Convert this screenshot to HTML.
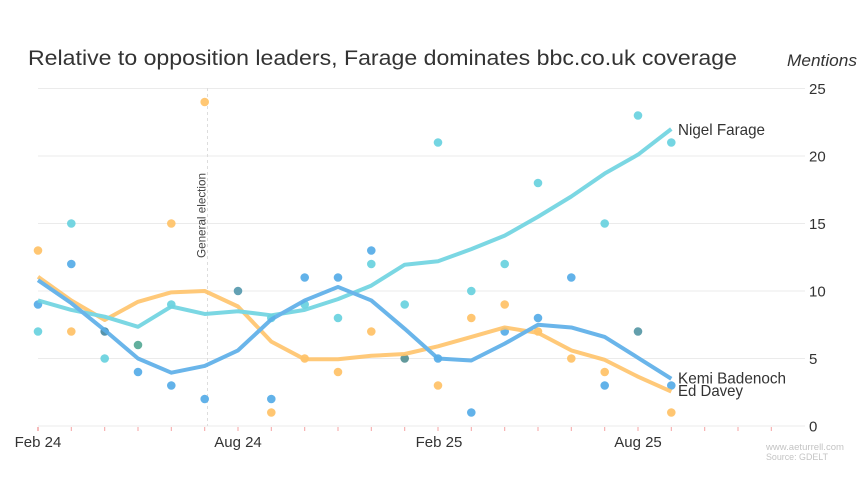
<!DOCTYPE html>
<html><head><meta charset="utf-8"><style>
html,body{margin:0;padding:0;background:#fff;}
svg{display:block;font-family:"Liberation Sans",sans-serif;}
</style></head><body>
<svg width="864" height="480" viewBox="0 0 864 480" xmlns="http://www.w3.org/2000/svg">
<rect width="864" height="480" fill="#fff"/>
<text x="28" y="65" font-size="21" fill="#333" textLength="709" lengthAdjust="spacingAndGlyphs">Relative to opposition leaders, Farage dominates bbc.co.uk coverage</text>
<text x="787" y="66" font-size="17" font-style="italic" fill="#333" textLength="70" lengthAdjust="spacingAndGlyphs">Mentions</text>
<g stroke="#ebebeb" stroke-width="1">
<line x1="38" x2="805" y1="88.5" y2="88.5"/>
<line x1="38" x2="805" y1="156" y2="156"/>
<line x1="38" x2="805" y1="223.5" y2="223.5"/>
<line x1="38" x2="805" y1="291" y2="291"/>
<line x1="38" x2="805" y1="358.5" y2="358.5"/>
<line x1="38" x2="805" y1="426" y2="426"/>
</g>
<g font-size="15" fill="#333">
<text x="809" y="94">25</text>
<text x="809" y="161.5">20</text>
<text x="809" y="229">15</text>
<text x="809" y="296.5">10</text>
<text x="809" y="364">5</text>
<text x="809" y="431.5">0</text>
</g>
<g stroke="#f4a3a3" stroke-width="1">
<line x1="38" x2="38" y1="427" y2="431" stroke="#ee7777"/><line x1="71.3" x2="71.3" y1="427" y2="431"/><line x1="104.7" x2="104.7" y1="427" y2="431"/><line x1="138" x2="138" y1="427" y2="431"/><line x1="171.3" x2="171.3" y1="427" y2="431"/><line x1="204.7" x2="204.7" y1="427" y2="431"/><line x1="238" x2="238" y1="427" y2="431"/><line x1="271.3" x2="271.3" y1="427" y2="431"/><line x1="304.7" x2="304.7" y1="427" y2="431"/><line x1="338" x2="338" y1="427" y2="431"/><line x1="371.3" x2="371.3" y1="427" y2="431"/><line x1="404.7" x2="404.7" y1="427" y2="431"/><line x1="438" x2="438" y1="427" y2="431"/><line x1="471.3" x2="471.3" y1="427" y2="431"/><line x1="504.7" x2="504.7" y1="427" y2="431"/><line x1="538" x2="538" y1="427" y2="431"/><line x1="571.3" x2="571.3" y1="427" y2="431"/><line x1="604.7" x2="604.7" y1="427" y2="431"/><line x1="638" x2="638" y1="427" y2="431"/><line x1="671.3" x2="671.3" y1="427" y2="431"/><line x1="704.7" x2="704.7" y1="427" y2="431"/><line x1="738" x2="738" y1="427" y2="431"/><line x1="771.3" x2="771.3" y1="427" y2="431"/>
</g>
<g font-size="15" fill="#333" text-anchor="middle">
<text x="38" y="447">Feb 24</text>
<text x="238" y="447">Aug 24</text>
<text x="439" y="447">Feb 25</text>
<text x="638" y="447">Aug 25</text>
</g>
<line x1="207.5" x2="207.5" y1="88" y2="426" stroke="#dddddd" stroke-width="1" stroke-dasharray="3,3"/>
<text transform="translate(205.5,258) rotate(-90)" font-size="12" fill="#444" textLength="85" lengthAdjust="spacingAndGlyphs">General election</text>
<g opacity="0.95">
<g fill="#ffc46b">
<circle cx="38" cy="250.5" r="4.3"/><circle cx="71.3" cy="331.5" r="4.3"/><circle cx="171.3" cy="223.5" r="4.3"/><circle cx="204.7" cy="102" r="4.3"/><circle cx="271.3" cy="412.5" r="4.3"/><circle cx="304.7" cy="358.5" r="4.3"/><circle cx="338" cy="372" r="4.3"/><circle cx="371.3" cy="331.5" r="4.3"/><circle cx="438" cy="385.5" r="4.3"/><circle cx="471.3" cy="318" r="4.3"/><circle cx="504.7" cy="304.5" r="4.3"/><circle cx="538" cy="331.5" r="4.3"/><circle cx="571.3" cy="358.5" r="4.3"/><circle cx="604.7" cy="372" r="4.3"/><circle cx="671.3" cy="412.5" r="4.3"/>
</g>
<g fill="#6dd3e0">
<circle cx="38" cy="331.5" r="4.3"/><circle cx="71.3" cy="223.5" r="4.3"/><circle cx="104.7" cy="358.5" r="4.3"/><circle cx="171.3" cy="304.5" r="4.3"/><circle cx="271.3" cy="318" r="4.3"/><circle cx="304.7" cy="304.5" r="4.3"/><circle cx="338" cy="318" r="4.3"/><circle cx="371.3" cy="264" r="4.3"/><circle cx="404.7" cy="304.5" r="4.3"/><circle cx="438" cy="142.5" r="4.3"/><circle cx="471.3" cy="291" r="4.3"/><circle cx="504.7" cy="264" r="4.3"/><circle cx="538" cy="183" r="4.3"/><circle cx="604.7" cy="223.5" r="4.3"/><circle cx="638" cy="115.5" r="4.3"/><circle cx="671.3" cy="142.5" r="4.3"/>
</g>
<g fill="#5aaee8">
<circle cx="38" cy="304.5" r="4.3"/><circle cx="71.3" cy="264" r="4.3"/><circle cx="138" cy="372" r="4.3"/><circle cx="171.3" cy="385.5" r="4.3"/><circle cx="204.7" cy="399" r="4.3"/><circle cx="271.3" cy="399" r="4.3"/><circle cx="304.7" cy="277.5" r="4.3"/><circle cx="338" cy="277.5" r="4.3"/><circle cx="371.3" cy="250.5" r="4.3"/><circle cx="438" cy="358.5" r="4.3"/><circle cx="471.3" cy="412.5" r="4.3"/><circle cx="504.7" cy="331.5" r="4.3"/><circle cx="538" cy="318" r="4.3"/><circle cx="571.3" cy="277.5" r="4.3"/><circle cx="604.7" cy="385.5" r="4.3"/><circle cx="671.3" cy="385.5" r="4.3"/>
</g>
<circle cx="104.7" cy="331.5" r="4.3" fill="#4d8ea6"/>
<circle cx="138" cy="345" r="4.3" fill="#5aab98"/>
<circle cx="238" cy="291" r="4.3" fill="#5b9db0"/>
<circle cx="404.7" cy="358.5" r="4.3" fill="#5a9496"/>
<circle cx="638" cy="331.5" r="4.3" fill="#5b9aa8"/>
</g>
<g fill="none" stroke-width="4" stroke-linejoin="round" stroke-linecap="butt" opacity="0.9">
<polyline stroke="#ffc46b" points="38,276.8 71.3,300.45 104.7,320 138,301.8 171.3,292.35 204.7,291 238,306.5 271.3,341.6 304.7,359.3 338,359.3 371.3,355.8 404.7,354 438,346.35 471.3,336.9 504.7,327.45 538,332.85 571.3,350.4 604.7,359.85 638,376.7 671.3,391.6"/>
<polyline stroke="#6dd3e0" points="38,300.45 71.3,309.9 104.7,316.65 138,326.8 171.3,306.5 204.7,313.95 238,311.25 271.3,315.3 304.7,309.9 338,299.1 371.3,285.6 404.7,264.7 438,261.3 471.3,249.15 504.7,235.65 538,216.75 571.3,196.5 604.7,173.55 638,154.65 671.3,129"/>
<polyline stroke="#5aaee8" points="38,280.2 71.3,303.15 104.7,330.15 138,358.5 171.3,372.7 204.7,365.9 238,350.4 271.3,319.35 304.7,300.45 338,286.95 371.3,300.45 404.7,328.8 438,358.5 471.3,360.5 504.7,343.65 538,324.75 571.3,327.45 604.7,336.9 638,357.8 671.3,378.75"/>
</g>
<g font-size="16" fill="#333">
<text x="678" y="135" textLength="87" lengthAdjust="spacingAndGlyphs">Nigel Farage</text>
<text x="678" y="383.5" textLength="108" lengthAdjust="spacingAndGlyphs">Kemi Badenoch</text>
<text x="678" y="396" textLength="65" lengthAdjust="spacingAndGlyphs">Ed Davey</text>
</g>
<g font-size="9.5" fill="#c4c4c4">
<text x="766" y="450" textLength="78" lengthAdjust="spacingAndGlyphs">www.aeturrell.com</text>
<text x="766" y="460" textLength="62" lengthAdjust="spacingAndGlyphs">Source: GDELT</text>
</g>
</svg>
</body></html>
